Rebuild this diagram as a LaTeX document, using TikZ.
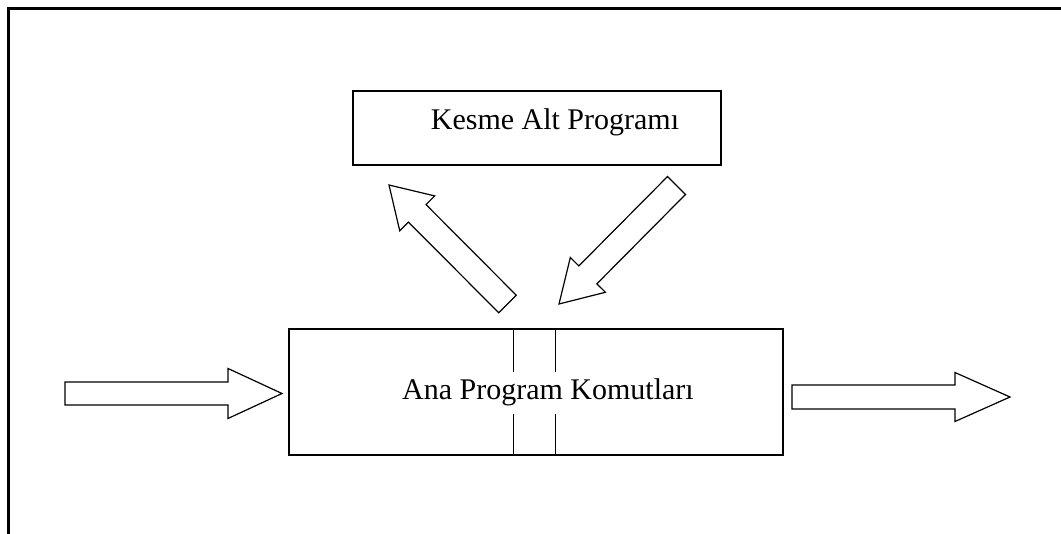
\documentclass[tikz,border=0pt]{standalone}
\usepackage{fontspec}
\setmainfont{Liberation Serif}
\usepackage{tikz}
\usetikzlibrary{calc}
\tikzstyle{box} = [rectangle, draw=black, line width=1.5pt, text centered, font=\fontsize{30}{36}\selectfont]
\tikzstyle{divider} = [draw=black, line width=1.5pt]
\tikzstyle{fat} = [draw=black, line width=1.2pt, fill=white, line join=miter]
\tikzstyle{frame} = [draw=black, line width=3pt]
% hollow block arrow: tail, tip, half shaft, half head, head length
\newcommand{\blockarr}[5]{%
  \coordinate (neck) at ($(#2)!#5!(#1)$);
  \draw[fat] ($(#1)!#3!90:(#2)$) -- ($(neck)!#3!90:(#2)$) -- ($(neck)!#4!90:(#2)$) -- (#2)
    -- ($(neck)!#4!-90:(#2)$) -- ($(neck)!#3!-90:(#2)$) -- ($(#1)!#3!-90:(#2)$) -- cycle;
}

\begin{document}
\begin{tikzpicture}[x=1pt, y=-1pt]
        \useasboundingbox (0,0) rectangle (1061,534);
        \draw[frame] (8,534) -- (8,9) -- (1061,9);

        \node (kesme) [box, minimum width=368pt, minimum height=74pt, text height=22pt, text depth=18pt] at (537,128) {\hspace*{36pt}Kesme Alt Programı};
        \node (main) [box, minimum width=494pt, minimum height=126pt] at (536,392) {\hspace*{24pt}Ana Program Komutları};

        \draw[divider] (main.north west) ++(225,0) -- ++(0,44);
        \draw[divider] (main.north west) ++(267,0) -- ++(0,44);
        \draw[divider] (main.south west) ++(225,0) -- ++(0,-42);
        \draw[divider] (main.south west) ++(267,0) -- ++(0,-42);

        \coordinate (in1) at (65,393.5);
        \coordinate (in2) at (282,393.5);
        \coordinate (out1) at (792,397);
        \coordinate (out2) at (1010,397);
        \coordinate (up1) at (507.5,304);
        \coordinate (up2) at (389,185);
        \coordinate (dn1) at (676.5,185.5);
        \coordinate (dn2) at (559,304);

        \blockarr{in1}{in2}{11.5pt}{25pt}{54pt}
        \blockarr{out1}{out2}{12pt}{24.5pt}{55pt}
        \blockarr{up1}{up2}{12.4pt}{24.7pt}{40pt}
        \blockarr{dn1}{dn2}{12.7pt}{24.7pt}{41pt}
\end{tikzpicture}
\end{document}
